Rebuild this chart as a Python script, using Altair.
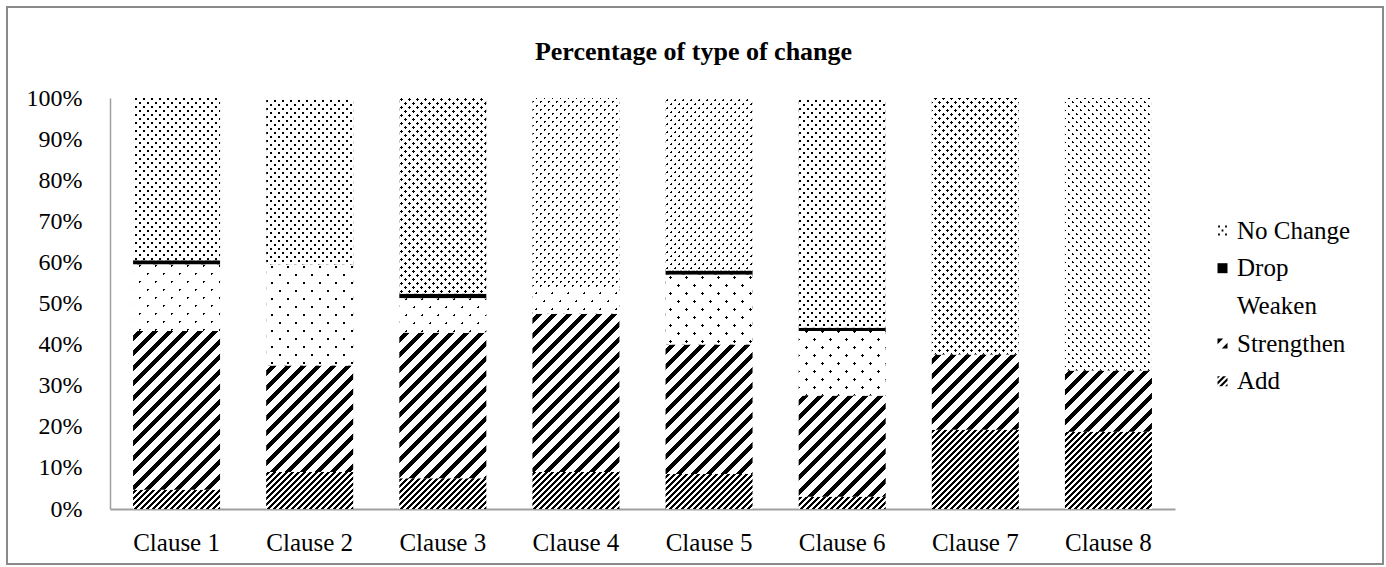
import math
import altair as alt

# ---------------- data (percent of clauses) ----------------
clauses = ["Clause 1", "Clause 2", "Clause 3", "Clause 4",
           "Clause 5", "Clause 6", "Clause 7", "Clause 8"]
change_types = ["Add", "Strengthen", "Weaken", "Drop", "No Change"]  # bottom -> top
legend_order = ["No Change", "Drop", "Weaken", "Strengthen", "Add"]

add = [4.7, 9.0, 7.5, 9.0, 8.5, 3.0, 19.3, 18.8]
strengthen = [38.6, 25.9, 35.4, 38.5, 31.5, 24.6, 18.3, 14.9]
weaken = [16.2, 24.6, 8.4, 6.0, 17.0, 15.7, 0.0, 0.0]
drop = [1.0, 0.0, 1.1, 0.0, 1.0, 0.8, 0.0, 0.0]
no_change = [39.5, 40.5, 47.6, 46.5, 42.0, 55.9, 62.4, 66.3]

series = {"Add": add, "Strengthen": strengthen, "Weaken": weaken,
          "Drop": drop, "No Change": no_change}

# ---------------- layout / style ----------------
PLOT_W, PLOT_H, BAR_W = 1065, 411, 87
INK, PAPER, CLEAR = "#000000", "#ffffff", "rgba(255,255,255,0)"
GRID = "#a0a0a0"
FONT = "Liberation Serif"

SQ2 = math.sqrt(2)
# (style, period along the stripe normal, stripe thickness) in pixels
PATTERNS = {
    "Add": ("hatch", 6 / SQ2, 0.5 * 6 / SQ2),
    "Strengthen": ("hatch", 15 / SQ2, 0.4 * 15 / SQ2),
    "Weaken": ("dots", 8 * SQ2, 2.0),
    "No Change": ("dots", 4 * SQ2, 2.0),
    "Drop": ("solid", 0, 0),
}


def stripe_stops(span, period, on, ink, paper):
    stops = [{"offset": 0, "color": paper}]
    s = (period - on) / 2
    while s < span:
        e = min(s + on, span)
        a, b = round(s / span, 5), round(e / span, 5)
        stops += [{"offset": a, "color": paper}, {"offset": a, "color": ink},
                  {"offset": b, "color": ink}, {"offset": b, "color": paper}]
        s += period
    stops.append({"offset": 1, "color": paper})
    return stops


def diagonal(w, h, rising, stops):
    k = (1 / h + 1 / w) / (1 / h ** 2 + 1 / w ** 2)
    if rising:
        return {"gradient": "linear", "x1": 0, "y1": 0,
                "x2": round(k / h, 6), "y2": round(k / w, 6), "stops": stops}
    return {"gradient": "linear", "x1": 0, "y1": 1,
            "x2": round(k / h, 6), "y2": round(1 - k / w, 6), "stops": stops}


def fills(kind, value):
    h = max(value / 100 * PLOT_H, 0.5)
    w = BAR_W
    span = (w + h) / SQ2
    style, period, on = PATTERNS[kind]
    if style == "solid":
        return INK, CLEAR
    base = diagonal(w, h, True, stripe_stops(span, period, on, INK, PAPER))
    if style == "hatch":
        return base, CLEAR
    over = diagonal(w, h, False, stripe_stops(span, period, on, CLEAR, PAPER))
    return base, over


# ---- legend glyphs (unit square -1..1) ----
def clip_band(c1, c2):
    poly = [(-1, -1), (1, -1), (1, 1), (-1, 1)]

    def clip(poly, f):
        out = []
        n = len(poly)
        for i in range(n):
            p, q = poly[i], poly[(i + 1) % n]
            fp, fq = f(p), f(q)
            if fp >= 0:
                out.append(p)
            if (fp >= 0) != (fq >= 0):
                t = fp / (fp - fq)
                out.append((p[0] + t * (q[0] - p[0]), p[1] + t * (q[1] - p[1])))
        return out

    poly = clip(poly, lambda p: p[0] + p[1] - c1)
    poly = clip(poly, lambda p: c2 - (p[0] + p[1]))
    if len(poly) < 3:
        return ""
    return "M" + "L".join(f"{x:.3f},{y:.3f}" for x, y in poly) + "Z"


def hatch_glyph(centres, width):
    return "".join(clip_band(c - width / 2, c + width / 2) for c in centres)


def dot_glyph(points, r):
    return "".join(f"M{x - r:.2f},{y - r:.2f}H{x + r:.2f}V{y + r:.2f}H{x - r:.2f}Z"
                   for x, y in points)


legend_shapes = [
    dot_glyph([(-0.7, -0.8), (0.7, -0.8), (0, 0), (-0.7, 0.8), (0.7, 0.8)], 0.18),
    "M-1,-1H1V1H-1Z",
    "M0,0Z",
    hatch_glyph([-1.5, 1.5], 1.3),
    hatch_glyph([-1.8, -0.6, 0.6, 1.8], 0.6),
]

rows = []
for i, c in enumerate(clauses):
    for j, t in enumerate(change_types):
        v = series[t][i]
        if v <= 0:
            continue
        g1, g2 = fills(t, v)
        rows.append({"clause": c, "type": t, "ord": j, "value": v / 100,
                     "g1": g1, "g2": g2})

x_enc = alt.X("clause:N", sort=clauses,
              scale=alt.Scale(paddingInner=0, paddingOuter=0),
              axis=alt.Axis(title=None, labelAngle=0, ticks=False, grid=False,
                            domainColor=GRID, domainWidth=2,
                            labelFont=FONT, labelFontSize=25, labelColor="#000000",
                            labelPadding=21))
y_axis = alt.Axis(title=None, format="%", values=[i / 10 for i in range(11)],
                  ticks=False, domainColor=GRID, domainWidth=1.5,
                  gridColor=GRID, gridWidth=1.5,
                  labelFont=FONT, labelFontSize=24, labelColor="#000000",
                  labelPadding=28)
y_scale = alt.Scale(domain=[0, 1], nice=False)

base = alt.Chart(alt.Data(values=rows)).encode(
    x=x_enc,
    y=alt.Y("value:Q", stack="zero", scale=y_scale, axis=y_axis),
    order=alt.Order("ord:Q", sort="ascending"),
)

# legend carrier: points hidden behind the opaque bars
legend_layer = alt.Chart(alt.Data(values=rows)).mark_point(
    filled=True, color="#000000", size=100, opacity=1
).encode(
    x=x_enc,
    y=alt.Y(datum=0.5, scale=y_scale, axis=y_axis),
    shape=alt.Shape("type:N",
                    scale=alt.Scale(domain=legend_order, range=legend_shapes),
                    legend=alt.Legend(title=None, orient="none", direction="vertical",
                                      legendX=1100, legendY=120, padding=0,
                                      symbolSize=100, symbolStrokeWidth=0,
                                      symbolFillColor="#000000",
                                      labelFont=FONT, labelFontSize=25,
                                      labelColor="#000000", labelOffset=2,
                                      rowPadding=11.7)),
)

pattern_layer = base.mark_bar(width=BAR_W).encode(
    fill=alt.Fill("g1:N", scale=None, legend=None)
)
overlay_layer = base.mark_bar(width=BAR_W).encode(
    fill=alt.Fill("g2:N", scale=None, legend=None)
)

frame = alt.Chart(alt.Data(values=[{"f": 1}])).mark_rect(
    filled=False, stroke="#8a8a8a", strokeWidth=2
).encode(x=alt.value(-103), x2=alt.value(1273), y=alt.value(-91), y2=alt.value(466))

chart = alt.layer(legend_layer, pattern_layer, overlay_layer, frame).properties(
    width=PLOT_W, height=PLOT_H,
    autosize=alt.AutoSizeParams(type="none"),
    padding={"left": 110, "top": 98, "right": 211, "bottom": 58},
    background="white",
    title=alt.Title("Percentage of type of change", font=FONT, fontSize=26,
                    fontWeight="bold", color="#000000", anchor="middle",
                    frame="group", dx=51, offset=0, baseline="alphabetic", dy=80),
).configure_view(stroke=None)

chart.save("out.html", embed_options={"renderer": "svg", "actions": False})
